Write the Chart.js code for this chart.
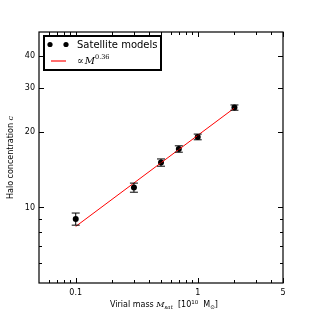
<!DOCTYPE html>
<html>
<head>
<meta charset="utf-8">
<script src="https://cdn.jsdelivr.net/npm/chart.js@4.4.1/dist/chart.umd.min.js"></script>
<style>
  html, body { margin: 0; padding: 0; background: #fff; }
  canvas { display: block; }
</style>
</head>
<body>
<canvas id="haloChart" width="315" height="315"></canvas>
<script>
// satellite models: virial mass (1e10 Msun) vs halo concentration
const masses = [0.1, 0.3, 0.5, 0.7, 1, 2];
const concentration = [9.0, 12.0, 15.1, 17.1, 19.1, 25.0];
const errLow = [8.5, 11.5, 14.6, 16.6, 18.6, 24.4];
const errHigh = [9.5, 12.5, 15.6, 17.6, 19.6, 25.6];

// power-law fit endpoints (c ∝ M^0.36)
const fitMass = [0.1, 2];
const fitConc = [8.4, 24.9];

// ticks
const xMajorTicks = [0.1, 1, 5];
const xMinorTicks = [0.06, 0.07, 0.08, 0.09, 0.2, 0.3, 0.4, 0.5, 0.6, 0.7, 0.8, 0.9, 2, 3, 4];
const yMajorTicks = [10, 20, 30, 40];
const yMinorTicks = [6, 7, 8, 9];

const SANS = '"DejaVu Sans", sans-serif';
const SERIF = '"DejaVu Serif", serif';

// draws a row of text pieces (different fonts / baseline shifts) centred at x
function drawPieces(ctx, pieces, x, y) {
    let total = 0;
    pieces.forEach(p => { ctx.font = p.font; total += ctx.measureText(p.text).width; });
    let cx = x - total / 2;
    ctx.textAlign = 'left';
    ctx.textBaseline = 'alphabetic';
    pieces.forEach(p => {
        ctx.font = p.font;
        ctx.fillText(p.text, cx, y + (p.dy || 0));
        cx += ctx.measureText(p.text).width;
    });
}

const decorations = {
    id: 'decorations',
    afterDatasetsDraw(chart) {
        const ctx = chart.ctx;
        const xs = chart.scales.x, ys = chart.scales.y;

        // error bars
        ctx.save();
        ctx.strokeStyle = '#000';
        ctx.lineWidth = 1;
        masses.forEach((m, i) => {
            const px = xs.getPixelForValue(m);
            const top = ys.getPixelForValue(errHigh[i]);
            const bot = ys.getPixelForValue(errLow[i]);
            ctx.beginPath();
            ctx.moveTo(px, top); ctx.lineTo(px, bot);
            ctx.moveTo(px - 4, top); ctx.lineTo(px + 4, top);
            ctx.moveTo(px - 4, bot); ctx.lineTo(px + 4, bot);
            ctx.stroke();
        });
        ctx.restore();
    },
    afterDraw(chart) {
        const ctx = chart.ctx;
        const xs = chart.scales.x, ys = chart.scales.y;
        const a = chart.chartArea;
        ctx.save();

        // frame
        ctx.strokeStyle = '#000';
        ctx.lineWidth = 1.2;
        ctx.strokeRect(a.left, a.top, a.right - a.left, a.bottom - a.top);

        // inward ticks on all four sides
        ctx.lineWidth = 1;
        const tickX = (v, len) => {
            const px = Math.round(xs.getPixelForValue(v)) + 0.5;
            ctx.beginPath();
            ctx.moveTo(px, a.bottom); ctx.lineTo(px, a.bottom - len);
            ctx.moveTo(px, a.top); ctx.lineTo(px, a.top + len);
            ctx.stroke();
        };
        const tickY = (v, len) => {
            const py = Math.round(ys.getPixelForValue(v)) + 0.5;
            ctx.beginPath();
            ctx.moveTo(a.left, py); ctx.lineTo(a.left + len, py);
            ctx.moveTo(a.right, py); ctx.lineTo(a.right - len, py);
            ctx.stroke();
        };
        xMajorTicks.forEach(v => tickX(v, 5));
        xMinorTicks.forEach(v => tickX(v, 3));
        yMajorTicks.forEach(v => tickY(v, 5));
        yMinorTicks.forEach(v => tickY(v, 3));

        // axis titles
        ctx.fillStyle = '#000';
        drawPieces(ctx, [
            { text: 'Virial mass ', font: '8px ' + SANS },
            { text: 'M', font: 'italic 8px ' + SERIF },
            { text: 'sat', font: 'italic 5.5px ' + SERIF, dy: 1.5 },
            { text: '  [10', font: '8px ' + SANS },
            { text: '10', font: '5.5px ' + SANS, dy: -3.5 },
            { text: '  M', font: '8px ' + SANS },
            { text: '\u2299', font: '5.5px ' + SANS, dy: 1.5 },
            { text: ']', font: '8px ' + SANS }
        ], 164, 307);

        ctx.save();
        ctx.translate(13, (a.top + a.bottom) / 2);
        ctx.rotate(-Math.PI / 2);
        drawPieces(ctx, [
            { text: 'Halo concentration ', font: '8px ' + SANS },
            { text: 'c', font: 'italic 8px ' + SERIF }
        ], 0, 0);
        ctx.restore();

        // legend
        const lx = 44, ly = 36, lw = 117, lh = 34;
        ctx.fillStyle = '#fff';
        ctx.fillRect(lx, ly, lw, lh);
        ctx.strokeStyle = '#000';
        ctx.lineWidth = 2;
        ctx.strokeRect(lx, ly, lw, lh);

        ctx.fillStyle = '#000';
        [50, 66].forEach(cx => {
            ctx.beginPath();
            ctx.arc(cx, 44.5, 2.6, 0, Math.PI * 2);
            ctx.fill();
        });
        ctx.font = '10px ' + SANS;
        ctx.textAlign = 'left';
        ctx.textBaseline = 'middle';
        ctx.fillText('Satellite models', 77, 45);

        ctx.strokeStyle = 'rgb(255, 60, 60)';
        ctx.lineWidth = 1.5;
        ctx.beginPath();
        ctx.moveTo(51, 61); ctx.lineTo(66, 61);
        ctx.stroke();

        ctx.textBaseline = 'alphabetic';
        ctx.font = '10px ' + SERIF;
        ctx.fillText('\u221D', 77, 64);
        let cx = 77 + ctx.measureText('\u221D').width + 1;
        ctx.font = 'italic 10px ' + SERIF;
        ctx.fillText('M', cx, 64);
        cx += ctx.measureText('M').width;
        ctx.font = '6.5px ' + SERIF;
        ctx.fillText('0.36', cx, 59);

        ctx.restore();
    }
};

const points = masses.map((m, i) => ({ x: m, y: concentration[i] }));
const fitLine = fitMass.map((m, i) => ({ x: m, y: fitConc[i] }));

new Chart(document.getElementById('haloChart').getContext('2d'), {
    type: 'scatter',
    data: {
        datasets: [
            {
                label: 'fit',
                data: fitLine,
                showLine: true,
                borderColor: '#ff0000',
                borderWidth: 1,
                pointRadius: 0,
                order: 0
            },
            {
                label: 'Satellite models',
                data: points,
                pointRadius: 3,
                pointBackgroundColor: '#000',
                pointBorderWidth: 0,
                order: 1
            }
        ]
    },
    options: {
        responsive: false,
        animation: false,
        events: [],
        layout: { padding: { top: 32, right: 32, left: 0, bottom: 0 } },
        plugins: {
            legend: { display: false },
            tooltip: { enabled: false }
        },
        scales: {
            x: {
                type: 'logarithmic',
                min: 0.05,
                max: 5,
                grid: { display: false, drawTicks: false },
                border: { display: false },
                afterBuildTicks: scale => { scale.ticks = xMajorTicks.map(v => ({ value: v })); },
                afterFit: scale => { scale.height = 32; },
                ticks: {
                    color: '#000',
                    padding: 5,
                    maxRotation: 0,
                    font: { family: SANS, size: 8 },
                    callback: v => String(v)
                }
            },
            y: {
                type: 'logarithmic',
                min: 5,
                max: 50,
                grid: { display: false, drawTicks: false },
                border: { display: false },
                afterBuildTicks: scale => { scale.ticks = yMajorTicks.map(v => ({ value: v })); },
                afterFit: scale => { scale.width = 39; },
                ticks: {
                    color: '#000',
                    padding: 4,
                    font: { family: SANS, size: 8 },
                    callback: v => String(v)
                }
            }
        }
    },
    plugins: [decorations]
});
</script>
</body>
</html>
